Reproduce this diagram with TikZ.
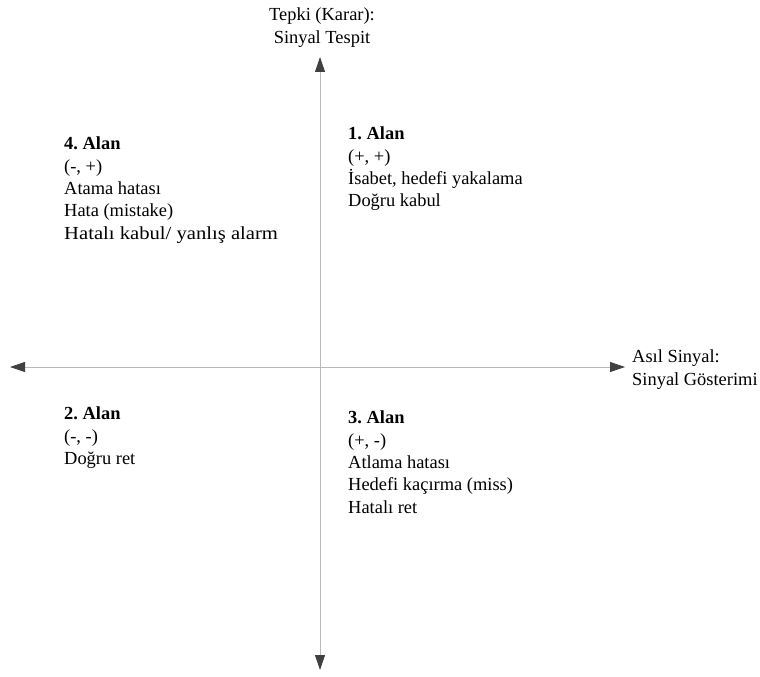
\documentclass[tikz,border=0pt]{standalone}
\usepackage{fontspec}
\setmainfont{Liberation Serif}
\usepackage{graphicx}
\usepackage{tikz}
\usetikzlibrary{arrows.meta}
\frenchspacing

\begin{document}
\begin{tikzpicture}[x=1bp,y=-1bp,
    alan/.style={anchor=north west, align=left, inner sep=0pt,
      font=\fontsize{18.5}{22.4}\selectfont},
    eksen/.style={gray!55, line width=0.9pt,
      {Triangle[length=15bp,width=10bp,color=black!75]}-{Triangle[length=15bp,width=10bp,color=black!75]}}]
  % page frame in pixel units, y pointing down
  \useasboundingbox (0,0) rectangle (760,677);
  % axis end points
  \coordinate (ust) at (320,57);
  \coordinate (alt) at (320,670);
  \coordinate (sol) at (10,367);
  \coordinate (sag) at (625,367);
  \draw[eksen] (alt) -- (ust);
  \draw[eksen] (sol) -- (sag);
  % axis labels
  \node[alan, anchor=north, align=center] (tepki) at (322,8) {Tepki (Karar):\\Sinyal Tespit};
  \node[alan] (asil) at (632,350) {Asıl Sinyal:\\Sinyal Gösterimi};
  % four regions
  \node[alan] (alan1) at (348,127) {\textbf{1. Alan}\\(+, +)\\İsabet, hedefi yakalama\\Doğru kabul};
  \node[alan] (alan4) at (64,137) {\textbf{4. Alan}\\(-, +)\\Atama hatası\\Hata (mistake)\\\scalebox{1.12}[1]{Hatalı kabul/ yanlış alarm}};
  \node[alan] (alan2) at (64,407) {\textbf{2. Alan}\\(-, -)\\Doğru ret};
  \node[alan] (alan3) at (348,411) {\textbf{3. Alan}\\(+, -)\\Atlama hatası\\Hedefi kaçırma (miss)\\Hatalı ret};
\end{tikzpicture}
\end{document}
